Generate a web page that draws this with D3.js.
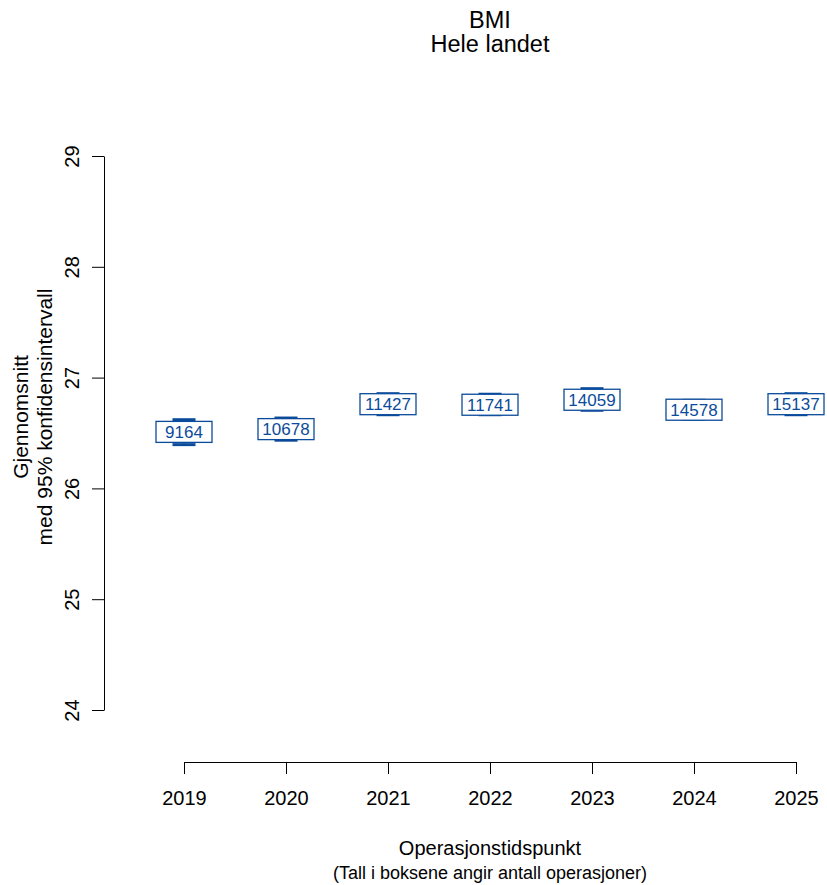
<!DOCTYPE html>
<html>
<head>
<meta charset="utf-8">
<script src="https://cdn.jsdelivr.net/npm/d3@7"></script>
<style>
  body { margin: 0; background: #fff; }
  svg { font-family: "Liberation Sans", Arial, sans-serif; }
</style>
</head>
<body>
<div id="chart"></div>
<script>
// BMI per operasjonsår, gjennomsnitt med 95% KI
var years = [2019, 2020, 2021, 2022, 2023, 2024, 2025];
var means = [26.51, 26.535, 26.76, 26.755, 26.80, 26.71, 26.76];
var lower = [26.395, 26.435, 26.665, 26.665, 26.705, 26.625, 26.665];
var upper = [26.62, 26.635, 26.855, 26.85, 26.90, 26.795, 26.855];
var counts = [9164, 10678, 11427, 11741, 14059, 14578, 15137];
var yTicks = [24, 25, 26, 27, 28, 29];

var width = 827, height = 885;
var blue = "#0b4b9b";

var svg = d3.select("#chart").append("svg")
    .attr("width", width)
    .attr("height", height);

var xScale = d3.scaleLinear().domain([2019, 2025]).range([184, 796]);
var yScale = d3.scaleLinear().domain([24, 29]).range([710, 156]);

// title
svg.append("text")
    .attr("x", 490).attr("y", 28)
    .attr("text-anchor", "middle")
    .attr("font-size", 23.5)
    .text("BMI");
svg.append("text")
    .attr("x", 490).attr("y", 52)
    .attr("text-anchor", "middle")
    .attr("font-size", 23.5)
    .text("Hele landet");

// y axis
var yAxis = d3.axisLeft(yScale).tickValues(yTicks).tickFormat(d3.format("d"))
    .tickSize(12).tickSizeOuter(0);
var yAxisG = svg.append("g")
    .attr("transform", "translate(104,0)")
    .call(yAxis);
yAxisG.selectAll("text")
    .attr("transform", "rotate(-90)")
    .attr("x", 0)
    .attr("y", -32)
    .attr("dy", "0.35em")
    .attr("text-anchor", "middle")
    .attr("font-size", 20)
    .attr("font-family", "Liberation Sans, Arial, sans-serif")
    .attr("fill", "#000");

// x axis
var xAxis = d3.axisBottom(xScale).tickValues(years).tickFormat(d3.format("d"))
    .tickSize(12).tickSizeOuter(0).tickPadding(17);
var xAxisG = svg.append("g")
    .attr("transform", "translate(0,762)")
    .call(xAxis);
xAxisG.selectAll("text")
    .attr("font-size", 20)
    .attr("font-family", "Liberation Sans, Arial, sans-serif")
    .attr("fill", "#000");

[yAxisG, xAxisG].forEach(function(g) {
  g.selectAll("line").attr("stroke", "#000");
  g.select(".domain").attr("stroke", "#000");
});

// axis titles
svg.append("text")
    .attr("transform", "translate(28,417) rotate(-90)")
    .attr("text-anchor", "middle")
    .attr("font-size", 21)
    .text("Gjennomsnitt");
svg.append("text")
    .attr("transform", "translate(52,417) rotate(-90)")
    .attr("text-anchor", "middle")
    .attr("font-size", 21)
    .text("med 95% konfidensintervall");

svg.append("text")
    .attr("x", 490).attr("y", 855)
    .attr("text-anchor", "middle")
    .attr("font-size", 20)
    .text("Operasjonstidspunkt");
svg.append("text")
    .attr("x", 490).attr("y", 879)
    .attr("text-anchor", "middle")
    .attr("font-size", 18)
    .text("(Tall i boksene angir antall operasjoner)");

// confidence intervals
var data = years.map(function(y, i) {
  return {year: y, mean: means[i], lo: lower[i], hi: upper[i], n: counts[i]};
});

var capHalf = 11.5;
var pts = svg.append("g").attr("class", "points");
var pt = pts.selectAll("g").data(data).enter().append("g");

pt.append("line")
    .attr("x1", function(d) { return xScale(d.year); })
    .attr("x2", function(d) { return xScale(d.year); })
    .attr("y1", function(d) { return yScale(d.lo); })
    .attr("y2", function(d) { return yScale(d.hi); })
    .attr("stroke", blue).attr("stroke-width", 1);
pt.append("line")
    .attr("x1", function(d) { return xScale(d.year) - capHalf; })
    .attr("x2", function(d) { return xScale(d.year) + capHalf; })
    .attr("y1", function(d) { return yScale(d.hi); })
    .attr("y2", function(d) { return yScale(d.hi); })
    .attr("stroke", blue).attr("stroke-width", 3);
pt.append("line")
    .attr("x1", function(d) { return xScale(d.year) - capHalf; })
    .attr("x2", function(d) { return xScale(d.year) + capHalf; })
    .attr("y1", function(d) { return yScale(d.lo); })
    .attr("y2", function(d) { return yScale(d.lo); })
    .attr("stroke", blue).attr("stroke-width", 3);

// boxes with counts
var boxW = 56, boxH = 21;
pt.append("rect")
    .attr("x", function(d) { return xScale(d.year) - boxW / 2; })
    .attr("y", function(d) { return yScale(d.mean) - boxH / 2; })
    .attr("width", boxW)
    .attr("height", boxH)
    .attr("fill", "#fff")
    .attr("stroke", blue)
    .attr("stroke-width", 1.3);
pt.append("text")
    .attr("x", function(d) { return xScale(d.year); })
    .attr("y", function(d) { return yScale(d.mean); })
    .attr("dy", "0.36em")
    .attr("text-anchor", "middle")
    .attr("font-size", 17)
    .attr("fill", blue)
    .text(function(d) { return d.n; });
</script>
</body>
</html>
